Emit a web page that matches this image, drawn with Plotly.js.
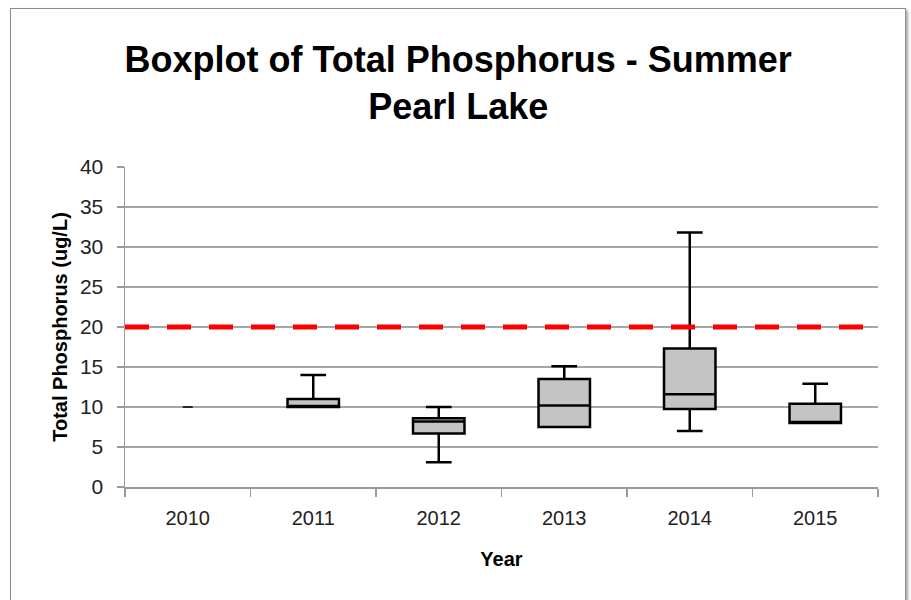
<!DOCTYPE html>
<html>
<head>
<meta charset="utf-8">
<script src="https://cdn.plot.ly/plotly-3.0.1.min.js"></script>
<style>
  html, body { margin:0; padding:0; background:#fff; }
  #frame { position:absolute; left:10px; top:8px; width:894px; height:610px; border:1px solid #8c8c8c; box-shadow: 2px 2px 3px rgba(0,0,0,0.35); background:#fff; }
  #chart { position:absolute; left:0; top:0; width:911px; height:600px; }
</style>
</head>
<body>
<div id="frame"></div>
<div id="chart"></div>
<script>
// Data
const years       = ["2010", "2011", "2012", "2013", "2014", "2015"];
const lowerWhisk  = [10,   10,   3.1,  7.5,  7.0,  8.0];
const q1Values    = [10,   10,   6.7,  7.5,  9.75, 8.0];
const medianVals  = [10,   10,   8.2,  10.2, 11.6, 8.1];
const q3Values    = [10,   11,   8.6,  13.5, 17.3, 10.4];
const upperWhisk  = [10,   14,   10,   15.1, 31.8, 12.9];
const threshold   = 20;

const mainIdx = [1,2,3,4,5];
const pick = (arr, idx) => idx.map(i => arr[i]);

const boxStyle = {
  type: 'box',
  fillcolor: '#c4c4c4',
  line: { color: '#000000', width: 2.5 },
  whiskerwidth: 0.5,
  hoverinfo: 'skip',
  showlegend: false
};

const traceFlat = Object.assign({}, boxStyle, {
  x: [years[0]], q1: [q1Values[0]], median: [medianVals[0]], q3: [q3Values[0]],
  lowerfence: [lowerWhisk[0]], upperfence: [upperWhisk[0]],
  width: 0.08, line: { color: '#000000', width: 1.5 }
});

const traceMain = Object.assign({}, boxStyle, {
  x: pick(years, mainIdx), q1: pick(q1Values, mainIdx), median: pick(medianVals, mainIdx),
  q3: pick(q3Values, mainIdx), lowerfence: pick(lowerWhisk, mainIdx), upperfence: pick(upperWhisk, mainIdx),
  width: 0.41
});

const layout = {
  width: 911, height: 600,
  paper_bgcolor: 'rgba(0,0,0,0)',
  plot_bgcolor: 'rgba(0,0,0,0)',
  margin: { l: 125, r: 33, t: 167, b: 113 },
  boxmode: 'overlay',
  title: {
    text: 'Boxplot of Total Phosphorus - Summer<br>Pearl Lake',
    font: { family: 'Liberation Sans Narrow, Liberation Sans, sans-serif', size: 36, color: '#000', weight: 'bold' },
    xref: 'container', x: 0.503, xanchor: 'center',
    yref: 'container', y: 0.88, yanchor: 'middle'
  },
  font: { family: 'Liberation Sans, Arial, sans-serif', color: '#222' },
  xaxis: {
    type: 'category',
    categoryorder: 'array', categoryarray: years,
    range: [-0.5, 5.5],
    showline: true, linecolor: '#9a9a9a', linewidth: 1.5,
    showgrid: false,
    ticks: 'outside', ticklen: 8, tickcolor: '#9a9a9a', tickwidth: 1.5,
    tickson: 'boundaries',
    ticklabelstandoff: 12,
    tickfont: { size: 20, color: '#222' },
    title: { text: 'Year', font: { size: 20, color: '#000', weight: 'bold' }, standoff: 24 }
  },
  yaxis: {
    range: [0, 40], dtick: 5, tick0: 0,
    showline: true, linecolor: '#9a9a9a', linewidth: 1.5,
    showgrid: true, gridcolor: '#a6a6a6', gridwidth: 1.5,
    zeroline: false,
    ticks: 'outside', ticklen: 7, tickcolor: '#9a9a9a', tickwidth: 1.5,
    ticklabelstandoff: 9,
    tickfont: { size: 21, color: '#222' },
    title: { text: 'Total Phosphorus (ug/L)', font: { size: 20, color: '#000', weight: 'bold' }, standoff: 7 }
  },
  shapes: [{
    type: 'line', xref: 'paper', x0: 0, x1: 1, yref: 'y', y0: threshold, y1: threshold,
    line: { color: '#ff0000', width: 5, dash: '24px,18px' }
  }]
};

Plotly.newPlot('chart', [traceMain, traceFlat], layout, { displayModeBar: false, staticPlot: true });
</script>
</body>
</html>
